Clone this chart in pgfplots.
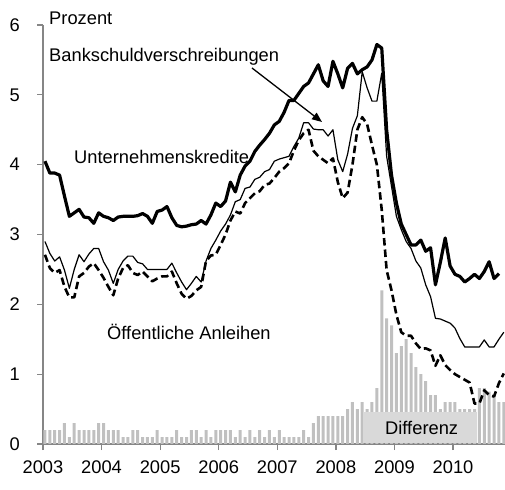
\documentclass[border=0pt]{standalone}
\usepackage{fontspec}
\setmainfont{Liberation Sans}
\usepackage{pgfplots}
\usepackage{pgfplotstable}
\pgfplotsset{compat=1.18}
\usetikzlibrary{arrows.meta}
\definecolor{barcol}{RGB}{192,192,192}
\definecolor{boxcol}{RGB}{217,217,217}
\definecolor{axcol}{RGB}{134,134,134}

% m = month index from Jan 2003
\pgfplotstableread{
m diff uk bank oeff
0 0.2 4.05 2.90 2.71
1 0.2 3.88 2.73 2.52
2 0.2 3.88 2.62 2.45
3 0.2 3.85 2.68 2.49
4 0.3 3.55 2.49 2.25
5 0.1 3.26 2.23 2.10
6 0.3 3.31 2.50 2.10
7 0.2 3.36 2.71 2.40
8 0.2 3.25 2.61 2.45
9 0.2 3.24 2.72 2.54
10 0.2 3.16 2.80 2.59
11 0.3 3.31 2.80 2.49
12 0.3 3.26 2.61 2.38
13 0.2 3.24 2.49 2.25
14 0.2 3.20 2.30 2.13
15 0.2 3.25 2.50 2.37
16 0.1 3.26 2.62 2.52
17 0.1 3.26 2.69 2.56
18 0.2 3.26 2.69 2.45
19 0.2 3.27 2.60 2.42
20 0.1 3.30 2.58 2.47
21 0.1 3.26 2.50 2.40
22 0.1 3.16 2.50 2.33
23 0.2 3.33 2.50 2.37
24 0.1 3.35 2.50 2.40
25 0.1 3.40 2.50 2.40
26 0.1 3.24 2.59 2.47
27 0.2 3.13 2.45 2.30
28 0.1 3.11 2.32 2.15
29 0.1 3.12 2.21 2.08
30 0.2 3.14 2.30 2.12
31 0.2 3.15 2.40 2.20
32 0.1 3.20 2.32 2.25
33 0.2 3.15 2.62 2.62
34 0.1 3.28 2.80 2.70
35 0.2 3.45 2.92 2.71
36 0.2 3.40 3.05 2.85
37 0.2 3.48 3.15 3.00
38 0.2 3.75 3.28 3.20
39 0.1 3.61 3.47 3.33
40 0.2 3.85 3.50 3.30
41 0.1 3.98 3.66 3.45
42 0.2 4.05 3.68 3.52
43 0.1 4.19 3.79 3.59
44 0.2 4.28 3.82 3.62
45 0.1 4.36 3.90 3.71
46 0.2 4.45 3.93 3.73
47 0.1 4.57 4.05 3.81
48 0.2 4.62 4.08 3.90
49 0.1 4.75 4.10 3.95
50 0.1 4.92 4.12 4.02
51 0.1 4.92 4.26 4.20
52 0.1 5.02 4.38 4.35
53 0.2 5.12 4.60 4.45
54 0.1 5.17 4.60 4.50
55 0.3 5.30 4.51 4.20
56 0.4 5.43 4.50 4.12
57 0.4 5.20 4.50 4.07
58 0.4 5.12 4.41 4.02
59 0.4 5.48 4.50 4.09
60 0.4 5.30 4.07 3.75
61 0.4 5.10 3.90 3.52
62 0.5 5.38 4.15 3.60
63 0.6 5.45 4.52 4.00
64 0.5 5.30 4.70 4.50
65 0.6 5.36 5.33 4.68
66 0.5 5.40 5.10 4.58
67 0.6 5.50 4.91 4.28
68 0.8 5.72 4.91 4.00
69 2.2 5.67 5.31 3.35
70 1.8 4.50 4.12 2.49
71 1.7 3.85 3.69 2.20
72 1.3 3.45 3.26 1.85
73 1.4 3.15 3.07 1.60
74 1.5 3.00 2.90 1.55
75 1.3 2.85 2.80 1.55
76 1.1 2.85 2.62 1.44
77 1.0 2.92 2.52 1.36
78 0.9 2.76 2.28 1.37
79 0.7 2.81 2.11 1.34
80 0.7 2.28 1.80 1.12
81 0.5 2.60 1.79 1.27
82 0.6 2.95 1.76 1.13
83 0.6 2.55 1.73 1.06
84 0.6 2.43 1.66 1.00
85 0.5 2.40 1.51 0.96
86 0.5 2.32 1.39 0.92
87 0.5 2.37 1.39 0.88
88 0.5 2.43 1.39 0.58
89 0.8 2.37 1.39 0.58
90 0.8 2.47 1.49 0.77
91 0.75 2.61 1.39 0.70
92 0.7 2.37 1.39 0.68
93 0.6 2.44 1.50 0.87
94 0.6 nan 1.60 1.01
}\data

\begin{document}
\fontsize{18.3}{22}\selectfont
\begin{tikzpicture}[x=1pt,y=1pt]
\useasboundingbox (0,0) rectangle (505,489);
\begin{axis}[
  at={(43pt,45pt)}, anchor=south west,
  scale only axis, width=462pt, height=419pt,
  xmin=0, xmax=94.65, ymin=0, ymax=6,
  axis x line*=bottom, axis y line*=left,
  axis line style={draw=axcol, line width=1.3pt, -},
  tick align=outside, major tick length=6pt,
  tick style={draw=axcol, line width=1.3pt},
  xtick={0,12,24,36,48,60,72,84},
  xticklabels={2003,2004,2005,2006,2007,2008,2009,2010},
  ytick={0,1,2,3,4,5,6},
  tick label style={font=\fontsize{18.3}{22}\selectfont, inner sep=0pt},
  /pgf/number format/assume math mode=true,
  yticklabel style={anchor=east, xshift=-17pt},
  xticklabel style={anchor=north, yshift=-11pt},
  clip=false,
  no markers,
]
\addplot[ybar, bar width=3pt, fill=barcol, draw=none] table[x expr=\thisrow{m}+0.4, y=diff] {\data};
\fill[boxcol] (axis cs:65.6,0.012) rectangle (axis cs:88.9,0.46);
\addplot[black, line width=1.2pt, line join=round] table[x expr=\thisrow{m}+0.4, y=bank] {\data};
\addplot[black, line width=2.6pt, dash pattern=on 7.5pt off 4pt, line join=round] table[x expr=\thisrow{m}+0.4, y=oeff] {\data};
\addplot[black, line width=3.2pt, line join=round] table[x expr=\thisrow{m}+0.4, y=uk] {\data};
\end{axis}
\node[anchor=base west, inner sep=0pt] at (49,464) {Prozent};
\node[anchor=base west, inner sep=0pt] at (49,427) {Bankschuldverschreibungen};
\node[anchor=base west, inner sep=0pt] at (74,325.7) {Unternehmenskredite};
\node[anchor=base west, inner sep=0pt] at (107,149) {Öffentliche Anleihen};
\node[anchor=base west, inner sep=0pt] at (385,54.7) {Differenz};
\draw[line width=1.3pt, -{Triangle[length=10pt,width=8pt]}] (252,421) -- (322,367);
\end{tikzpicture}
\end{document}
